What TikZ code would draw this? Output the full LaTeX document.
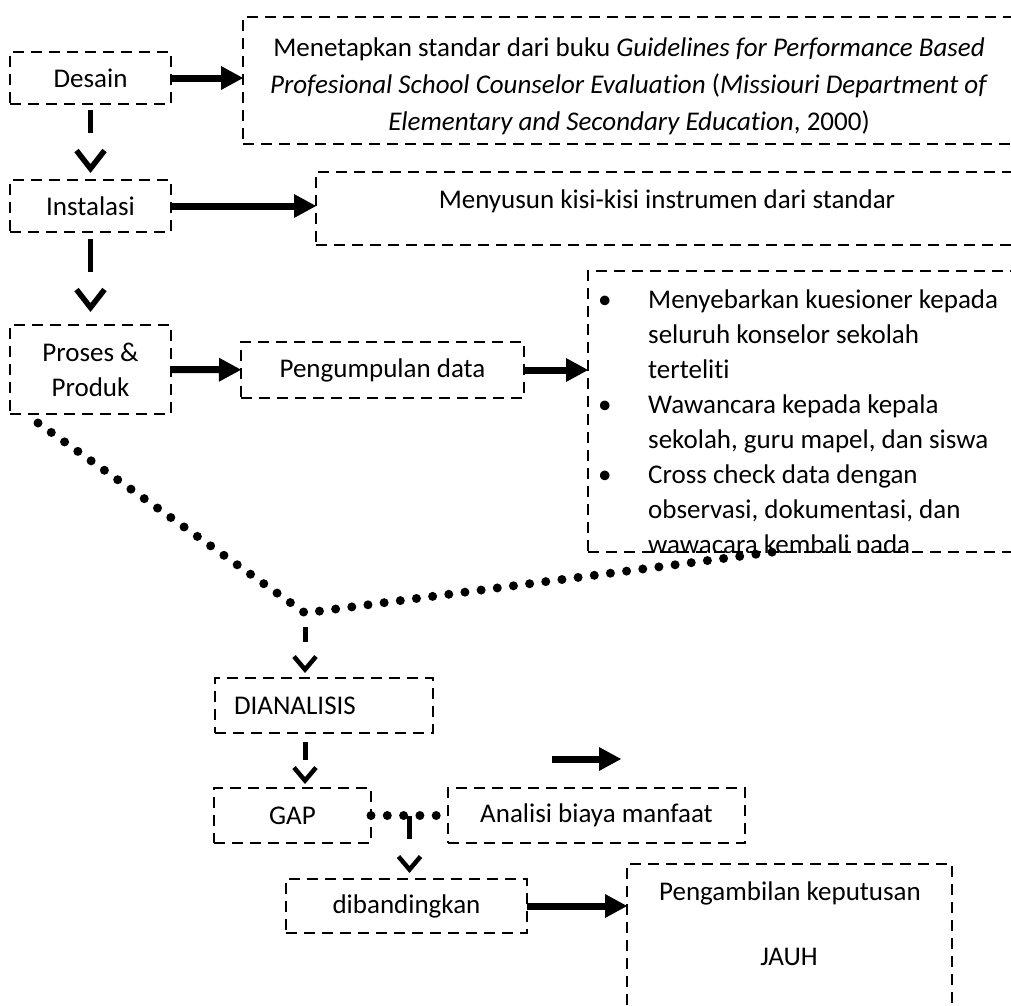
\documentclass[tikz,border=0pt]{standalone}
\usepackage{fontspec}
\setmainfont{Carlito}[Ligatures=NoCommon]
\usetikzlibrary{arrows.meta}

\tikzset{
  kotak/.style={draw, line width=2.5pt, dash pattern=on 11pt off 7pt, inner sep=0pt, outer sep=0pt,
    font=\fontsize{27}{35}\selectfont, align=center},
  teks/.style={font=\fontsize{27}{37}\selectfont, align=center, inner sep=0pt},
  panah/.style={line width=7pt, -{Triangle[length=22pt,width=24pt,line width=0pt]}},
  tegak/.style={line width=5pt, -{Straight Barb[length=18pt,width=28pt,line width=5.5pt]}},
  tegakkecil/.style={line width=5pt, -{Straight Barb[length=13pt,width=22pt,line width=4.5pt]}},
  titik/.style={line width=9pt, dash pattern=on 0pt off 16.3pt, line cap=round}
}

\begin{document}
\begin{tikzpicture}[x=1pt, y=-1pt]

\useasboundingbox (0,0) rectangle (1011,1005);
\clip (0,0) rectangle (1011,1005);

% kolom kiri
  \node[kotak, minimum width=161pt, minimum height=52pt] (desain) at (90.5,78) {Desain};
  \node[kotak, minimum width=161pt, minimum height=52pt] (instal) at (90.5,206) {Instalasi};
  \node[kotak, minimum width=161pt, minimum height=89pt] (proses) at (90.5,369.5) {Proses \&\\Produk};

% kotak kanan
  \node[kotak, minimum width=772pt, minimum height=127pt] (standar) at (629,80.5) {};
  \node[teks] at (629,86) {Menetapkan standar dari buku \textit{Guidelines for Performance Based}\\
    \textit{Profesional School Counselor Evaluation} (\textit{Missiouri Department of}\\
    \textit{Elementary and Secondary Education}, 2000)};

  \node[kotak, minimum width=699pt, minimum height=73pt] (kisi) at (665.5,208.5) {};
  \node[teks] at (667,201) {Menyusun kisi-kisi instrumen dari standar};

  \node[kotak, minimum width=283pt, minimum height=56pt] (kumpul) at (382.5,370) {Pengumpulan data};

  \node[kotak, minimum width=427pt, minimum height=281pt] (kegiatan) at (801.5,411.5) {};
  \begin{scope}
    \clip (kegiatan.south west) rectangle (kegiatan.north east);
    \node[anchor=north west, inner sep=0pt, font=\fontsize{27}{35}\selectfont] at (598,284) {%
      \begin{tabular}[t]{@{}p{50pt}@{}l@{}}
        \textbullet & Menyebarkan kuesioner kepada\\
                    & seluruh konselor sekolah\\
                    & terteliti\\
        \textbullet & Wawancara kepada kepala\\
                    & sekolah, guru mapel, dan siswa\\
        \textbullet & Cross check data dengan\\
                    & observasi, dokumentasi, dan\\
                    & wawacara kembali pada
      \end{tabular}};
  \end{scope}

% bagian bawah
  \coordinate (temu) at (305,613);
  \node[kotak, minimum width=218pt, minimum height=55pt, text width=180pt, inner xsep=19pt, align=left] (analisis) at (324,705.5) {DIANALISIS};
  \node[kotak, minimum width=157pt, minimum height=55pt] (gap) at (292.5,815.5) {GAP};
  \node[kotak, minimum width=297pt, minimum height=55pt] (biaya) at (596.5,815.5) {Analisi biaya manfaat};
  \node[kotak, minimum width=241pt, minimum height=54pt] (banding) at (406.5,906) {dibandingkan};
  \node[kotak, minimum width=325pt, minimum height=156pt] (putusan) at (789.5,942) {};
  \node[teks] at (790,893) {Pengambilan keputusan};
  \node[teks] at (789,957) {JAUH};

  \coordinate (lepas1) at (552,759);
  \coordinate (lepas2) at (621,759);

% panah tebal
  \draw[panah] (desain.east) -- (desain.east -| standar.west);
  \draw[panah] (instal.east) -- (instal.east -| kisi.west);
  \draw[panah] (proses) -- (kumpul);
  \draw[panah] (kumpul.east) -- (kumpul.east -| kegiatan.west);
  \draw[panah] (banding.east) -- (banding.east -| putusan.west);
  \draw[panah] (lepas1) -- (lepas2);

% panah putus-putus
  \draw[tegak, dash pattern=on 23pt off 60pt, shorten <=6pt, shorten >=7pt] (desain) -- (instal);
  \draw[tegak, dash pattern=on 33pt off 60pt, shorten <=7pt, shorten >=13pt] (instal) -- (proses);
  \draw[tegakkecil, dash pattern=on 15pt off 60pt, shorten <=14pt, shorten >=5pt] (temu) -- (temu |- analisis.north);
  \draw[tegakkecil, dash pattern=on 18pt off 60pt, shorten <=9pt, shorten >=4pt] (temu |- analisis.south) -- (temu |- gap.north);

% garis titik
  \draw[titik] ([xshift=28pt,yshift=-9pt]proses.south west) -- (temu) -- ([xshift=185pt]kegiatan.south west);
  \draw[titik] (gap.east) -- (biaya.west);
  \path (gap.east) -- (biaya.west) coordinate[pos=0.5] (tengah);
  \draw[tegakkecil, dash pattern=on 23pt off 60pt, shorten >=6pt] (tengah) -- (tengah |- banding.north);

\end{tikzpicture}
\end{document}
